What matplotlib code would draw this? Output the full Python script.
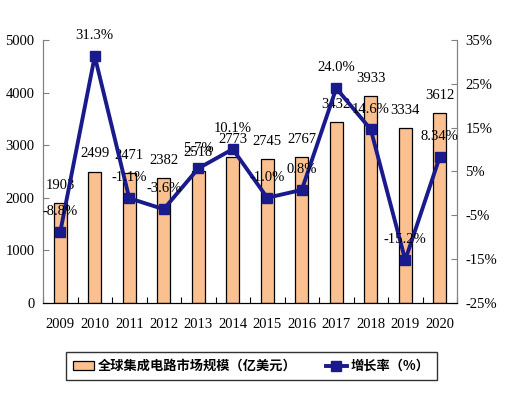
import matplotlib
matplotlib.use("Agg")
import matplotlib.pyplot as plt
import numpy as np
from matplotlib.ticker import FixedLocator

years = ["2009", "2010", "2011", "2012", "2013", "2014", "2015", "2016", "2017", "2018", "2019", "2020"]
market = [1903, 2499, 2471, 2382, 2518, 2773, 2745, 2767, 3432, 3933, 3334, 3612]
growth = [-8.8, 31.3, -1.1, -3.6, 5.7, 10.1, -1.0, 0.8, 24.0, 14.6, -15.2, 8.34]
growth_labels = ["-8.8%", "31.3%", "-1.1%", "-3.6%", "5.7%", "10.1%", "-1.0%", "0.8%", "24.0%", "14.6%", "-15.2%", "8.34%"]
left_ticks = [0, 1000, 2000, 3000, 4000, 5000]
right_ticks = [-25, -15, -5, 5, 15, 25, 35]
bar_name = "全球集成电路市场规模（亿美元）"
line_name = "增长率（%）"

serif = ["Liberation Serif", "DejaVu Serif"]
cjk = ["Noto Sans CJK SC", "DejaVu Sans"]

fig = plt.figure(figsize=(5.16, 3.95), dpi=100)
ax = fig.add_axes([43/516, 1-303/395, (457-43)/516, (303-40)/395])
x = np.arange(len(years))
bars = ax.bar(x, market, width=0.38, color="#FAC08F", edgecolor="black", linewidth=0.9, label=bar_name, zorder=2)
ax.set_xlim(-0.5, len(years)-0.5)
ax.set_ylim(0, 5000)
ax.set_yticks(left_ticks)
ax.set_xticks(x)
ax.set_xticklabels(years, fontfamily=serif, fontsize=10.5)
ax.xaxis.set_minor_locator(FixedLocator(np.arange(-0.5, len(years), 1.0)))
ax.tick_params(axis="x", which="major", length=0, pad=11)
ax.tick_params(axis="x", which="minor", direction="in", length=4, color="black", width=0.8)
ax.tick_params(axis="y", direction="in", length=4, color="#808080", labelsize=10.5, pad=6)
for lab in ax.get_yticklabels():
    lab.set_fontfamily(serif)
ax.spines["top"].set_visible(False)
ax.spines["left"].set_color("#808080")
ax.spines["right"].set_color("#808080")
ax.spines["bottom"].set_color("black")

for xi, v in zip(x, market):
    ax.annotate(str(v), (xi, v), xytext=(0, 8), textcoords="offset points",
                ha="center", va="bottom", fontfamily=serif, fontsize=10.5, color="black", zorder=5)

ax2 = ax.twinx()
ax2.set_ylim(-25, 35)
ax2.set_yticks(right_ticks)
ax2.set_yticklabels([f"{t}%" for t in right_ticks], fontfamily=serif, fontsize=10.5)
ax2.tick_params(axis="y", direction="in", length=4, color="#808080", pad=6)
ax2.spines["top"].set_visible(False)
ax2.spines["right"].set_color("#808080")
ax2.spines["left"].set_color("#808080")
line, = ax2.plot(x, growth, color="#1A1A8C", linewidth=2.8, marker="s", markersize=7,
                 markerfacecolor="#1A1A8C", markeredgecolor="#1A1A8C", label=line_name)
for xi, v, t in zip(x, growth, growth_labels):
    ax2.annotate(t, (xi, v), xytext=(0, 10), textcoords="offset points",
                 ha="center", va="bottom", fontfamily=serif, fontsize=10.5, color="black")

leg = fig.legend([bars, line], [bar_name, line_name], loc="center", bbox_to_anchor=(0.487, 0.073),
                 ncol=2, frameon=True, fancybox=False, edgecolor="black", prop={"family": cjk, "weight": "bold", "size": 9.5},
                 handlelength=1.6, handletextpad=0.3, columnspacing=2.2, borderpad=0.55)
leg.get_frame().set_linewidth(1.0)

fig.savefig("out.png", dpi=100)
